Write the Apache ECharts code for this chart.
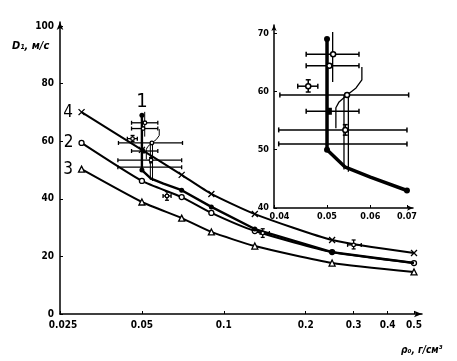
<!DOCTYPE html>
<html><head><meta charset="utf-8">
<script src="https://cdn.jsdelivr.net/npm/echarts@6/dist/echarts.min.js"></script>
<style>html,body{margin:0;padding:0;background:#fff}#c{width:457px;height:361px}</style>
</head><body><div id="c"></div>
<script>
// ---- axis ticks ----
const xTicksMain = [0.025, 0.05, 0.1, 0.2, 0.3, 0.4, 0.5];
const xTickLabelsMain = ['0.025', '0.05', '0.1', '0.2', '0.3', '0.4', '0.5'];
const yTicksMain = [0, 20, 40, 60, 80, 100];
const xTicksInset = [0.04, 0.05, 0.06, 0.07];
const xTickLabelsInset = ['0.04', '0.05', '0.06', '0.07'];
const yTicksInset = [40, 50, 60, 70];

// ---- curves (x = ρ0, g/cm3 ; y = D1, m/s) ----
const curve4X = [0.03, 0.05, 0.07, 0.09, 0.13, 0.25, 0.5];
const curve4Y = [70.1, 57.0, 48.3, 41.7, 34.7, 25.7, 21.2];
const curve2X = [0.03, 0.05, 0.07, 0.09, 0.13, 0.25, 0.5];
const curve2Y = [59.4, 46.2, 40.6, 35.1, 28.8, 21.5, 17.7];
const curve3X = [0.03, 0.05, 0.07, 0.09, 0.13, 0.25, 0.5];
const curve3Y = [50.3, 38.9, 33.3, 28.5, 23.6, 17.7, 14.6];
const curve1X = [0.05, 0.05, 0.054, 0.06, 0.07, 0.09, 0.13, 0.25, 0.5];
const curve1Y = [69.0, 50.0, 47.0, 45.3, 43.0, 37.2, 29.5, 21.5, 17.7];

// ---- thin auxiliary lines of curve 1 ----
const thinAX = [0.0512, 0.0512];
const thinAY = [70.2, 61.6];
const thinBX = [0.0579, 0.0579, 0.0565, 0.0544, 0.0526, 0.0519, 0.0519];
const thinBY = [64.2, 62.0, 60.6, 59.4, 58.2, 57.2, 53.7];
const thinCX = [0.0537, 0.0537];
const thinCY = [59.4, 46.6];
const thinDX = [0.0547, 0.0547];
const thinDY = [59.4, 46.2];

// ---- experimental points with error bars ----
const errX   = [0.0513, 0.0505, 0.0462, 0.0544, 0.0505, 0.0540, 0.0535, 0.0618, 0.139, 0.30];
const errY   = [66.4, 64.4, 60.9, 59.4, 56.6, 53.4, 51.0, 41.0, 28.1, 24.0];
const errXLo = [0.0458, 0.0458, 0.0442, 0.0410, 0.0458, 0.0408, 0.0408, 0.0598, 0.136, 0.285];
const errXHi = [0.0572, 0.0572, 0.0481, 0.0705, 0.0572, 0.0700, 0.0700, 0.0640, 0.147, 0.320];
const errYLo = [66.4, 64.4, 59.9, 59.4, 56.6, 52.5, 51.0, 39.5, 26.6, 22.6];
const errYHi = [66.4, 64.4, 62.0, 59.4, 56.6, 54.3, 51.0, 42.5, 29.6, 25.7];

const pts = (xs, ys) => xs.map((x, i) => [x, ys[i]]);
const tickFont = "'Liberation Sans Narrow','DejaVu Sans Condensed','Liberation Sans',sans-serif";
const handFont = "'Liberation Sans Narrow','DejaVu Sans Condensed',sans-serif";

function nearest(v, ticks, labels) {
  let bi = 0, bd = Infinity;
  ticks.forEach((t, i) => { const d = Math.abs(Math.log(t) - Math.log(v)); if (d < bd) { bd = d; bi = i; } });
  return { i: bi, s: labels[bi] };
}

const errData = errX.map((x, i) => [x, errY[i], errXLo[i], errXHi[i], errYLo[i], errYHi[i], i]);

function makeErrRender(cap, lw, r) {
  return function (params, api) {
    const y = api.value(1);
    const lo = api.coord([api.value(2), y]);
    const hi = api.coord([api.value(3), y]);
    const c = api.coord([api.value(0), y]);
    const vlo = api.coord([api.value(0), api.value(4)]);
    const vhi = api.coord([api.value(0), api.value(5)]);
    const st = { stroke: '#000', lineWidth: lw, fill: null };
    const ch = [
      { type: 'line', shape: { x1: lo[0], y1: lo[1], x2: hi[0], y2: hi[1] }, style: st },
      { type: 'line', shape: { x1: lo[0], y1: lo[1] - cap, x2: lo[0], y2: lo[1] + cap }, style: st },
      { type: 'line', shape: { x1: hi[0], y1: hi[1] - cap, x2: hi[0], y2: hi[1] + cap }, style: st }
    ];
    if (vlo[1] - vhi[1] > 1) {
      ch.push({ type: 'line', shape: { x1: c[0], y1: vlo[1], x2: c[0], y2: vhi[1] }, style: st });
      ch.push({ type: 'line', shape: { x1: c[0] - cap, y1: vlo[1], x2: c[0] + cap, y2: vlo[1] }, style: st });
      ch.push({ type: 'line', shape: { x1: c[0] - cap, y1: vhi[1], x2: c[0] + cap, y2: vhi[1] }, style: st });
    }
    const idx = api.value(6);
    if (idx === 4) {
      ch.push({ type: 'rect', shape: { x: c[0] - r, y: c[1] - r * 1.4, width: 2 * r, height: 2.8 * r }, style: { fill: '#000' } });
    } else if (idx !== 6) {
      ch.push({ type: 'circle', shape: { cx: c[0], cy: c[1], r: r }, style: { fill: '#fff', stroke: '#000', lineWidth: lw } });
    }
    return { type: 'group', children: ch };
  };
}

const crossPath = 'path://M0,0L10,10M10,0L0,10';

function labelFirst(data, text, pos, size, dist) {
  data[0] = { value: data[0], label: { show: true, position: pos, formatter: text, fontFamily: handFont, fontSize: size, color: '#000', distance: dist } };
  return data;
}

const thinSets = [[thinAX, thinAY], [thinBX, thinBY], [thinCX, thinCY], [thinDX, thinDY]];

const series = [];
// main grid curves
series.push({ type: 'line', xAxisIndex: 0, yAxisIndex: 0, data: labelFirst(pts(curve4X, curve4Y), '4', 'left', 17, 5),
  smooth: 0.2, symbol: crossPath, symbolSize: 6, lineStyle: { color: '#000', width: 2 },
  itemStyle: { color: '#000', borderColor: '#000', borderWidth: 1.3 }, z: 3 });
series.push({ type: 'line', xAxisIndex: 0, yAxisIndex: 0, data: labelFirst(pts(curve2X, curve2Y), '2', 'left', 17, 5),
  smooth: 0.2, symbol: 'circle', symbolSize: 5, lineStyle: { color: '#000', width: 2 },
  itemStyle: { color: '#fff', borderColor: '#000', borderWidth: 1.3 }, z: 3 });
series.push({ type: 'line', xAxisIndex: 0, yAxisIndex: 0, data: labelFirst(pts(curve3X, curve3Y), '3', 'left', 17, 5),
  smooth: 0.2, symbol: 'triangle', symbolSize: 6, lineStyle: { color: '#000', width: 2 },
  itemStyle: { color: '#fff', borderColor: '#000', borderWidth: 1.3 }, z: 3 });
series.push({ type: 'line', xAxisIndex: 0, yAxisIndex: 0, data: labelFirst(pts(curve1X, curve1Y), '1', 'top', 20, 1),
  symbol: 'circle', symbolSize: (v, p) => ([2, 3, 8].includes(p.dataIndex) ? 0 : 5), lineStyle: { color: '#000', width: 2.4 },
  itemStyle: { color: '#000' }, z: 4 });
thinSets.forEach(([xs, ys]) => series.push({ type: 'line', xAxisIndex: 0, yAxisIndex: 0, data: pts(xs, ys),
  symbol: 'none', lineStyle: { color: '#000', width: 1 }, z: 2 }));
series.push({ type: 'custom', xAxisIndex: 0, yAxisIndex: 0, data: errData, renderItem: makeErrRender(2, 1.3, 1.8), z: 5 });

// inset (only the part inside its ranges)
const insetCurve1 = pts(curve1X, curve1Y).filter(d => d[0] <= 0.07);
series.push({ type: 'line', xAxisIndex: 1, yAxisIndex: 1, data: insetCurve1,
  symbol: 'circle', symbolSize: (v, p) => ([0, 1, 4].includes(p.dataIndex) ? 6 : 0), lineStyle: { color: '#000', width: 3.5 },
  itemStyle: { color: '#000' }, z: 4, clip: true });
thinSets.forEach(([xs, ys]) => series.push({ type: 'line', xAxisIndex: 1, yAxisIndex: 1, data: pts(xs, ys),
  symbol: 'none', lineStyle: { color: '#000', width: 1.3 }, z: 3 }));
series.push({ type: 'custom', xAxisIndex: 1, yAxisIndex: 1,
  data: errData.filter(d => d[2] >= 0.04 && d[3] <= 0.0718 && d[1] >= 45 && d[1] <= 71),
  renderItem: makeErrRender(2.5, 1.5, 2.5), z: 5 });

const axisLineStyle = { color: '#000', width: 1.5 };

const option = {
  backgroundColor: '#fff',
  animation: false,
  title: [
    { text: 'D₁, м/с', left: 7, top: 36, textStyle: { fontFamily: tickFont, fontSize: 11, fontWeight: 'bold', fontStyle: 'italic', color: '#000' } },
    { text: 'ρ₀, г/см³', left: 396, top: 340, textStyle: { fontFamily: tickFont, fontSize: 10, fontWeight: 'bold', fontStyle: 'italic', color: '#000' } }
  ],
  grid: [
    { left: 60, right: 35, top: 22, bottom: 47 },
    { left: 274, right: 44, top: 25, bottom: 153 }
  ],
  xAxis: [
    { type: 'log', logBase: 10, gridIndex: 0, min: 0.025, max: 0.535,
      axisLine: { lineStyle: axisLineStyle, symbol: ['none', 'arrow'], symbolSize: [5, 8] },
      axisTick: { show: true, inside: true, length: 3, customValues: xTicksMain, lineStyle: { color: '#000' } },
      axisLabel: { customValues: xTicksMain, margin: 6, color: '#000', fontFamily: tickFont, fontSize: 10, fontWeight: 'bold',
        formatter: v => { const n = nearest(v, xTicksMain, xTickLabelsMain); return n.i === 0 ? '{f|' + n.s + '}' : n.s; },
        rich: { f: { padding: [0, 0, 0, 6], fontFamily: tickFont, fontSize: 10, fontWeight: 'bold', color: '#000' } } },
      splitLine: { show: false }, minorTick: { show: false } },
    { type: 'log', logBase: 10, gridIndex: 1, min: 0.04, max: 0.0718,
      axisLine: { lineStyle: axisLineStyle, symbol: ['none', 'arrow'], symbolSize: [4, 6] },
      axisTick: { show: true, inside: true, length: 3, customValues: xTicksInset, lineStyle: { color: '#000' } },
      axisLabel: { customValues: xTicksInset, margin: 4, color: '#000', fontFamily: tickFont, fontSize: 9, fontWeight: 'bold',
        formatter: v => { const n = nearest(v, xTicksInset, xTickLabelsInset); return n.i === 0 ? '{f|' + n.s + '}' : n.s; },
        rich: { f: { padding: [0, 0, 0, 11], fontFamily: tickFont, fontSize: 9, fontWeight: 'bold', color: '#000' } } },
      splitLine: { show: false } }
  ],
  yAxis: [
    { type: 'value', gridIndex: 0, min: 0, max: 101.4,
      axisLine: { show: true, lineStyle: axisLineStyle, symbol: ['none', 'arrow'], symbolSize: [5, 8] },
      axisTick: { show: true, inside: true, length: 3, customValues: yTicksMain, lineStyle: { color: '#000' } },
      axisLabel: { customValues: yTicksMain, margin: 6, color: '#000', fontFamily: tickFont, fontSize: 10, fontWeight: 'bold' },
      splitLine: { show: false } },
    { type: 'value', gridIndex: 1, min: 40, max: 71.4,
      axisLine: { show: true, lineStyle: axisLineStyle, symbol: ['none', 'arrow'], symbolSize: [4, 6] },
      axisTick: { show: true, inside: true, length: 3, customValues: yTicksInset, lineStyle: { color: '#000' } },
      axisLabel: { customValues: yTicksInset, margin: 5, color: '#000', fontFamily: tickFont, fontSize: 9, fontWeight: 'bold' },
      splitLine: { show: false } }
  ],
  series: series
};
const chart = echarts.init(document.getElementById('c'), null, { renderer: 'canvas' });
chart.setOption(option);
</script>
</body></html>
